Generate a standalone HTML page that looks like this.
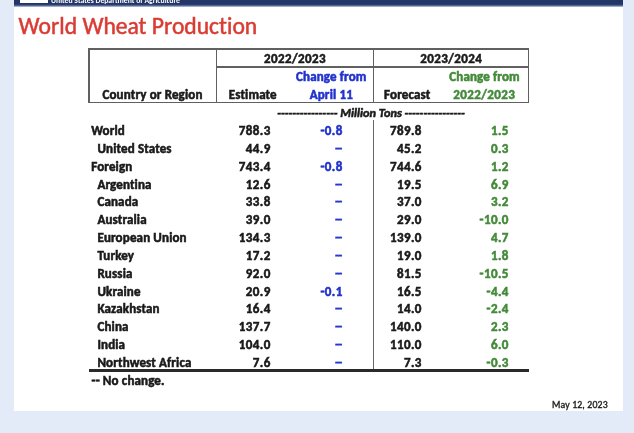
<!DOCTYPE html>
<html><head><meta charset="utf-8"><title>World Wheat Production</title>
<style>
html,body{margin:0;padding:0;}
body{width:634px;height:433px;background:#e3ebf8;position:relative;overflow:hidden;
 font-family:Carlito,"Liberation Sans",sans-serif;}
#pg{position:absolute;left:0;top:0;width:634px;height:433px;filter:blur(0.5px);}
.card{position:absolute;left:14px;top:0;width:609px;height:411.3px;background:#fff;}
.bar{position:absolute;left:14px;top:0;width:609px;height:7.5px;background:linear-gradient(to bottom,#243665 0px,#243665 4.3px,#5f72a3 5.8px,rgba(190,208,238,0) 7.5px);overflow:hidden;}
.logo{position:absolute;left:6px;top:0;width:28px;height:3px;background:#fff;}
.usda{position:absolute;left:37px;top:-4.4px;font-size:7.7px;font-weight:bold;color:#fff;white-space:nowrap;line-height:normal;}
.title{position:absolute;left:18.6px;top:12.00px;font-size:23.6px;font-variant-ligatures:none;-webkit-text-stroke:0.5px currentColor;color:#da3b32;white-space:nowrap;line-height:normal;}
.t{position:absolute;white-space:nowrap;font-weight:bold;color:#1a1a1a;line-height:normal;letter-spacing:0.15px;-webkit-text-stroke:0.55px currentColor;}
.n{letter-spacing:0.4px;}
.b{color:#2233cc;}
.g{color:#448a3a;}
.mt{font-style:italic;letter-spacing:0;}
.dd{letter-spacing:-0.7px;-webkit-text-stroke:0.35px currentColor;}
.date{font-weight:normal;color:#1c1c1c;-webkit-text-stroke:0.35px currentColor;}
.ln{position:absolute;background:#606060;}
.ld{background:#666;}
.lb{background:#2a2a2a;}
</style></head><body><div id="pg">
<div class="card"></div>
<div class="bar"><div class="logo"></div><div class="usda">United States Department of Agriculture</div></div>
<div class="title">World Wheat Production</div>
<div class="ln" style="left:88.35px;top:48.10px;width:440.90px;height:1.5px;"></div>
<div class="ln" style="left:88.35px;top:101.55px;width:440.90px;height:1.5px;"></div>
<div class="ln" style="left:216.40px;top:66.00px;width:312.10px;height:1.5px;"></div>
<div class="ln" style="left:88.35px;top:48.10px;width:1.5px;height:54.95px;"></div>
<div class="ln" style="left:215.65px;top:48.10px;width:1.5px;height:54.95px;"></div>
<div class="ln" style="left:372.95px;top:48.10px;width:1.5px;height:54.95px;"></div>
<div class="ln" style="left:527.75px;top:48.10px;width:1.5px;height:54.95px;"></div>
<div class="ln ld" style="left:373.00px;top:120.30px;width:1.3px;height:249.70px;"></div>
<div class="ln lb" style="left:88.50px;top:369.40px;width:440.30px;height:2.2px;"></div>
<div class="t n" style="left:145.00px;width:300px;text-align:center;top:51.00px;font-size:13.0px;">2022/2023</div>
<div class="t n" style="left:301.20px;width:300px;text-align:center;top:51.00px;font-size:13.0px;">2023/2024</div>
<div class="t " style="left:2.50px;width:300px;text-align:center;top:87.00px;font-size:13.0px;">Country or Region</div>
<div class="t " style="left:76.80px;width:200px;text-align:right;top:87.00px;font-size:13.0px;">Estimate</div>
<div class="t b" style="left:181.30px;width:300px;text-align:center;top:69.00px;font-size:13.0px;">Change from</div>
<div class="t b" style="left:181.30px;width:300px;text-align:center;top:87.00px;font-size:13.0px;">April 11</div>
<div class="t " style="left:230.40px;width:200px;text-align:right;top:87.00px;font-size:13.0px;">Forecast</div>
<div class="t g" style="left:334.50px;width:300px;text-align:center;top:69.00px;font-size:13.0px;">Change from</div>
<div class="t g n" style="left:334.30px;width:300px;text-align:center;top:87.00px;font-size:13.0px;">2022/2023</div>
<div class="t mt" style="left:221.00px;width:300px;text-align:center;top:105.00px;font-size:12.3px;">---------------- Million Tons ----------------</div>
<div class="t " style="left:91.20px;top:123.00px;font-size:13.0px;">World</div>
<div class="t n" style="left:70.70px;width:200px;text-align:right;top:123.00px;font-size:13.0px;">788.3</div>
<div class="t b n" style="left:142.70px;width:200px;text-align:right;top:123.00px;font-size:13.0px;">-0.8</div>
<div class="t n" style="left:221.80px;width:200px;text-align:right;top:123.00px;font-size:13.0px;">789.8</div>
<div class="t g n" style="left:308.80px;width:200px;text-align:right;top:123.00px;font-size:13.0px;">1.5</div>
<div class="t " style="left:97.40px;top:141.00px;font-size:13.0px;">United States</div>
<div class="t n" style="left:70.70px;width:200px;text-align:right;top:141.00px;font-size:13.0px;">44.9</div>
<div class="t b n dd" style="left:141.50px;width:200px;text-align:right;top:141.00px;font-size:13.0px;">--</div>
<div class="t n" style="left:221.80px;width:200px;text-align:right;top:141.00px;font-size:13.0px;">45.2</div>
<div class="t g n" style="left:308.80px;width:200px;text-align:right;top:141.00px;font-size:13.0px;">0.3</div>
<div class="t " style="left:91.20px;top:159.00px;font-size:13.0px;">Foreign</div>
<div class="t n" style="left:70.70px;width:200px;text-align:right;top:159.00px;font-size:13.0px;">743.4</div>
<div class="t b n" style="left:142.70px;width:200px;text-align:right;top:159.00px;font-size:13.0px;">-0.8</div>
<div class="t n" style="left:221.80px;width:200px;text-align:right;top:159.00px;font-size:13.0px;">744.6</div>
<div class="t g n" style="left:308.80px;width:200px;text-align:right;top:159.00px;font-size:13.0px;">1.2</div>
<div class="t " style="left:97.40px;top:177.00px;font-size:13.0px;">Argentina</div>
<div class="t n" style="left:70.70px;width:200px;text-align:right;top:177.00px;font-size:13.0px;">12.6</div>
<div class="t b n dd" style="left:141.50px;width:200px;text-align:right;top:177.00px;font-size:13.0px;">--</div>
<div class="t n" style="left:221.80px;width:200px;text-align:right;top:177.00px;font-size:13.0px;">19.5</div>
<div class="t g n" style="left:308.80px;width:200px;text-align:right;top:177.00px;font-size:13.0px;">6.9</div>
<div class="t " style="left:97.40px;top:194.00px;font-size:13.0px;">Canada</div>
<div class="t n" style="left:70.70px;width:200px;text-align:right;top:194.00px;font-size:13.0px;">33.8</div>
<div class="t b n dd" style="left:141.50px;width:200px;text-align:right;top:194.00px;font-size:13.0px;">--</div>
<div class="t n" style="left:221.80px;width:200px;text-align:right;top:194.00px;font-size:13.0px;">37.0</div>
<div class="t g n" style="left:308.80px;width:200px;text-align:right;top:194.00px;font-size:13.0px;">3.2</div>
<div class="t " style="left:97.40px;top:212.00px;font-size:13.0px;">Australia</div>
<div class="t n" style="left:70.70px;width:200px;text-align:right;top:212.00px;font-size:13.0px;">39.0</div>
<div class="t b n dd" style="left:141.50px;width:200px;text-align:right;top:212.00px;font-size:13.0px;">--</div>
<div class="t n" style="left:221.80px;width:200px;text-align:right;top:212.00px;font-size:13.0px;">29.0</div>
<div class="t g n" style="left:308.80px;width:200px;text-align:right;top:212.00px;font-size:13.0px;">-10.0</div>
<div class="t " style="left:97.40px;top:230.00px;font-size:13.0px;">European Union</div>
<div class="t n" style="left:70.70px;width:200px;text-align:right;top:230.00px;font-size:13.0px;">134.3</div>
<div class="t b n dd" style="left:141.50px;width:200px;text-align:right;top:230.00px;font-size:13.0px;">--</div>
<div class="t n" style="left:221.80px;width:200px;text-align:right;top:230.00px;font-size:13.0px;">139.0</div>
<div class="t g n" style="left:308.80px;width:200px;text-align:right;top:230.00px;font-size:13.0px;">4.7</div>
<div class="t " style="left:97.40px;top:248.00px;font-size:13.0px;">Turkey</div>
<div class="t n" style="left:70.70px;width:200px;text-align:right;top:248.00px;font-size:13.0px;">17.2</div>
<div class="t b n dd" style="left:141.50px;width:200px;text-align:right;top:248.00px;font-size:13.0px;">--</div>
<div class="t n" style="left:221.80px;width:200px;text-align:right;top:248.00px;font-size:13.0px;">19.0</div>
<div class="t g n" style="left:308.80px;width:200px;text-align:right;top:248.00px;font-size:13.0px;">1.8</div>
<div class="t " style="left:97.40px;top:266.00px;font-size:13.0px;">Russia</div>
<div class="t n" style="left:70.70px;width:200px;text-align:right;top:266.00px;font-size:13.0px;">92.0</div>
<div class="t b n dd" style="left:141.50px;width:200px;text-align:right;top:266.00px;font-size:13.0px;">--</div>
<div class="t n" style="left:221.80px;width:200px;text-align:right;top:266.00px;font-size:13.0px;">81.5</div>
<div class="t g n" style="left:308.80px;width:200px;text-align:right;top:266.00px;font-size:13.0px;">-10.5</div>
<div class="t " style="left:97.40px;top:284.00px;font-size:13.0px;">Ukraine</div>
<div class="t n" style="left:70.70px;width:200px;text-align:right;top:284.00px;font-size:13.0px;">20.9</div>
<div class="t b n" style="left:142.70px;width:200px;text-align:right;top:284.00px;font-size:13.0px;">-0.1</div>
<div class="t n" style="left:221.80px;width:200px;text-align:right;top:284.00px;font-size:13.0px;">16.5</div>
<div class="t g n" style="left:308.80px;width:200px;text-align:right;top:284.00px;font-size:13.0px;">-4.4</div>
<div class="t " style="left:97.40px;top:301.00px;font-size:13.0px;">Kazakhstan</div>
<div class="t n" style="left:70.70px;width:200px;text-align:right;top:301.00px;font-size:13.0px;">16.4</div>
<div class="t b n dd" style="left:141.50px;width:200px;text-align:right;top:301.00px;font-size:13.0px;">--</div>
<div class="t n" style="left:221.80px;width:200px;text-align:right;top:301.00px;font-size:13.0px;">14.0</div>
<div class="t g n" style="left:308.80px;width:200px;text-align:right;top:301.00px;font-size:13.0px;">-2.4</div>
<div class="t " style="left:97.40px;top:319.00px;font-size:13.0px;">China</div>
<div class="t n" style="left:70.70px;width:200px;text-align:right;top:319.00px;font-size:13.0px;">137.7</div>
<div class="t b n dd" style="left:141.50px;width:200px;text-align:right;top:319.00px;font-size:13.0px;">--</div>
<div class="t n" style="left:221.80px;width:200px;text-align:right;top:319.00px;font-size:13.0px;">140.0</div>
<div class="t g n" style="left:308.80px;width:200px;text-align:right;top:319.00px;font-size:13.0px;">2.3</div>
<div class="t " style="left:97.40px;top:337.00px;font-size:13.0px;">India</div>
<div class="t n" style="left:70.70px;width:200px;text-align:right;top:337.00px;font-size:13.0px;">104.0</div>
<div class="t b n dd" style="left:141.50px;width:200px;text-align:right;top:337.00px;font-size:13.0px;">--</div>
<div class="t n" style="left:221.80px;width:200px;text-align:right;top:337.00px;font-size:13.0px;">110.0</div>
<div class="t g n" style="left:308.80px;width:200px;text-align:right;top:337.00px;font-size:13.0px;">6.0</div>
<div class="t " style="left:97.40px;top:355.00px;font-size:13.0px;">Northwest Africa</div>
<div class="t n" style="left:70.70px;width:200px;text-align:right;top:355.00px;font-size:13.0px;">7.6</div>
<div class="t b n dd" style="left:141.50px;width:200px;text-align:right;top:355.00px;font-size:13.0px;">--</div>
<div class="t n" style="left:221.80px;width:200px;text-align:right;top:355.00px;font-size:13.0px;">7.3</div>
<div class="t g n" style="left:308.80px;width:200px;text-align:right;top:355.00px;font-size:13.0px;">-0.3</div>
<div class="t " style="left:91.50px;top:373.00px;font-size:13.0px;">-- No change.</div>
<div class="t date" style="left:552.00px;top:399.00px;font-size:9.8px;">May 12, 2023</div>
</div></body></html>
